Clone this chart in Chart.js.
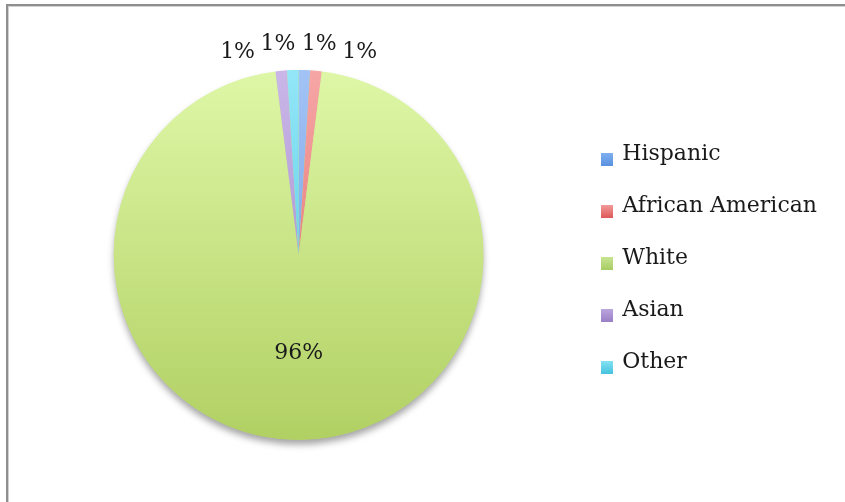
<!DOCTYPE html>
<html>
<head>
<meta charset="utf-8">
<script src="https://cdn.jsdelivr.net/npm/chart.js@4.4.1/dist/chart.umd.min.js"></script>
<style>
  html, body { margin: 0; padding: 0; background: #fff; width: 845px; height: 502px; overflow: hidden; }
  #frame { position: absolute; left: 6px; top: 4px; width: 900px; height: 600px;
           border-top: 2px solid #8f8f8f; border-left: 2px solid #8f8f8f;
           box-shadow: inset 1px 1px 0 #d2d2d2; }
  #wrap { position: absolute; left: 0; top: 0; width: 845px; height: 502px; }
</style>
</head>
<body>
<div id="frame"></div>
<div id="wrap"><canvas id="c" width="845" height="502"></canvas></div>
<script>
// Ethnic makeup, percent of total
const categories = ['Hispanic', 'African American', 'White', 'Asian', 'Other'];
const shares = [1, 1, 96, 1, 1];

// Slice fills: light at the top of the pie, deeper toward the bottom
const sliceTop    = ['#a3c3f5', '#f6a6a6', '#def7a7', '#cab7e8', '#93e6f7'];
const sliceBottom = ['#5e95e0', '#e06060', '#b1d063', '#9a80c5', '#45c3de'];
// Legend swatch fills
const swatchTop    = ['#7eb0f1', '#f29a9a', '#c8e592', '#bba6de', '#84e2f3'];
const swatchBottom = ['#5a90de', '#de5858', '#a8cc63', '#9a7fc4', '#45c2dd'];

const FONT = "'DejaVu Serif', serif";

// Legend swatch: a square sitting in the lower half of a taller transparent tile,
// so it lines up with the text baseline.
function makeSwatch(i) {
  const cv = document.createElement('canvas');
  cv.width = 12; cv.height = 24;
  const g = cv.getContext('2d');
  const grad = g.createLinearGradient(0, 11, 0, 24);
  grad.addColorStop(0, swatchTop[i]);
  grad.addColorStop(1, swatchBottom[i]);
  g.fillStyle = grad;
  g.fillRect(0, 11, 12, 13);
  return cv;
}
const swatches = categories.map((_, i) => makeSwatch(i));

function sliceFill(ctx) {
  const i = ctx.dataIndex;
  const area = ctx.chart.chartArea;
  if (!area) return sliceBottom[i];
  const grad = ctx.chart.ctx.createLinearGradient(0, area.top, 0, area.bottom);
  grad.addColorStop(0, sliceTop[i]);
  grad.addColorStop(1, sliceBottom[i]);
  return grad;
}

// Soft drop shadow under the whole pie
const pieShadow = {
  id: 'pieShadow',
  beforeDatasetsDraw(chart) {
    const arc = chart.getDatasetMeta(0).data[0];
    if (!arc) return;
    const { x, y, outerRadius } = arc.getProps(['x', 'y', 'outerRadius'], true);
    const c = chart.ctx;
    c.save();
    c.shadowColor = 'rgba(0,0,0,0.36)';
    c.shadowBlur = 7;
    c.shadowOffsetY = 5;
    c.fillStyle = '#c9e386';
    c.beginPath();
    c.arc(x, y, outerRadius - 0.5, 0, Math.PI * 2);
    c.fill();
    c.restore();
  }
};

// Percentage labels: big slices inside, thin slices fanned out above the rim
const pctLabels = {
  id: 'pctLabels',
  afterDatasetsDraw(chart) {
    const meta = chart.getDatasetMeta(0);
    const values = chart.data.datasets[0].data;
    const total = values.reduce((a, b) => a + b, 0);
    const c = chart.ctx;
    c.save();
    c.font = '22px ' + FONT;
    c.fillStyle = '#1a1a1a';
    c.textAlign = 'center';
    c.textBaseline = 'middle';
    meta.data.forEach((arc, i) => {
      const p = arc.getProps(['x', 'y', 'startAngle', 'endAngle', 'outerRadius'], true);
      const text = Math.round(values[i] / total * 100) + '%';
      const mid = (p.startAngle + p.endAngle) / 2;
      let fromTop = mid + Math.PI / 2;
      if (fromTop > Math.PI) fromTop -= Math.PI * 2;
      let r, a;
      if (values[i] / total >= 0.1) {
        r = p.outerRadius * 0.53;
        a = mid;
      } else {
        r = p.outerRadius + 27;
        a = -Math.PI / 2 + fromTop * 3.1;
      }
      c.fillText(text, p.x + r * Math.cos(a), p.y + r * Math.sin(a));
    });
    c.restore();
  }
};

// Drop the legend block a few pixels below the pie's centre line
const legendNudge = {
  id: 'legendNudge',
  afterLayout(chart) {
    if (chart.legend) { chart.legend.top += 3; chart.legend.bottom += 3; }
  }
};

new Chart(document.getElementById('c'), {
  type: 'pie',
  data: {
    labels: categories,
    datasets: [{
      data: shares,
      backgroundColor: sliceFill,
      borderWidth: 0,
      hoverOffset: 0,
      offset: 0
    }]
  },
  options: {
    responsive: false,
    animation: false,
    events: [],
    layout: { padding: { left: 24, right: 18, top: 70, bottom: 62 } },
    plugins: {
      tooltip: { enabled: false },
      legend: {
        position: 'right',
        align: 'center',
        labels: {
          usePointStyle: true,
          pointStyleWidth: 8,
          padding: 30,
          color: '#1a1a1a',
          font: { family: FONT, size: 22 },
          generateLabels() {
            return categories.map((name, i) => ({
              text: name,
              pointStyle: swatches[i],
              fillStyle: swatchBottom[i],
              strokeStyle: 'rgba(0,0,0,0)',
              lineWidth: 0,
              hidden: false,
              index: i,
              fontColor: '#1a1a1a'
            }));
          }
        }
      }
    }
  },
  plugins: [pieShadow, pctLabels, legendNudge]
});
</script>
</body>
</html>
